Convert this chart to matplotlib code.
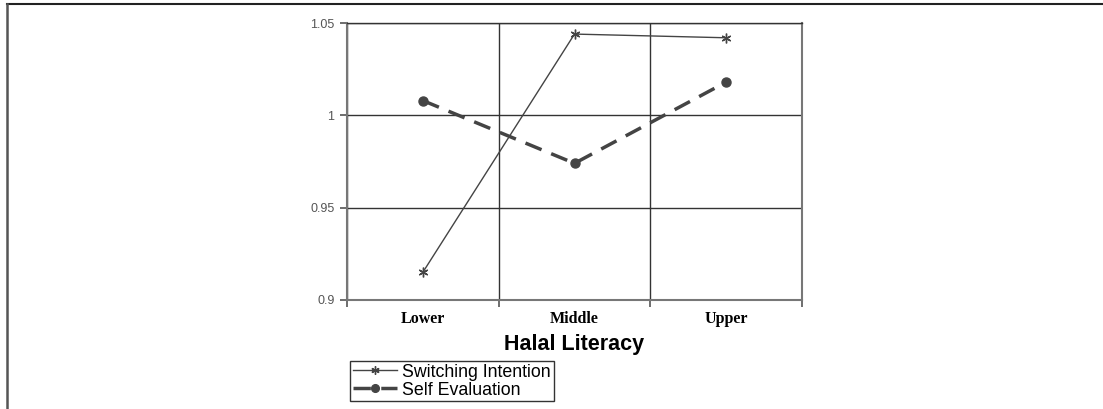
import numpy as np
import matplotlib.pyplot as plt
from matplotlib.lines import Line2D

categories = ['Lower', 'Middle', 'Upper']
switching = [0.915, 1.044, 1.042]
self_eval = [1.008, 0.974, 1.018]
yticks = [0.9, 0.95, 1.0, 1.05]
ytick_labels = ['0.9', '0.95', '1', '1.05']

fig = plt.figure(figsize=(11.03, 4.09), dpi=100)
W, H = 1103, 409
ax = fig.add_axes([347 / W, 1 - 300 / H, 455 / W, 277 / H])

x = np.arange(len(categories))
line_col = '#444444'
ax.plot(x, switching, color=line_col, linewidth=1.0, marker=(6, 2, 0),
        markersize=7, markeredgewidth=1.0, label='Switching Intention')
ax.plot(x, self_eval, color=line_col, linewidth=2.5, linestyle=(0, (5, 3)),
        marker='o', markersize=6.5, label='Self Evaluation')

ax.set_xlim(-0.5, len(categories) - 0.5)
ax.set_ylim(0.9, 1.05)

# category boundaries get the ticks / gridlines, labels sit in between
ax.set_xticks(np.arange(len(categories) + 1) - 0.5)
ax.set_xticklabels([])
ax.set_xticks(x, minor=True)
ax.set_xticklabels(categories, minor=True, fontfamily='Liberation Serif',
                   fontweight='bold', fontsize=11.5)
ax.tick_params(axis='x', which='minor', length=0, pad=8)
ax.tick_params(axis='x', which='major', length=5, direction='out', color='#555555', width=1.2)

ax.set_yticks(yticks)
ax.set_yticklabels(ytick_labels, fontfamily='Liberation Sans', fontsize=9, color='#555555')
ax.tick_params(axis='y', length=5, direction='out', color='#555555', width=1.2, pad=4)

ax.grid(True, axis='both', which='major', color='#333333', linewidth=1.0)
ax.set_axisbelow(True)
for s in ax.spines.values():
    s.set_color('#777777')
    s.set_linewidth(1.5)
ax.spines['top'].set_color('#333333')
ax.spines['top'].set_linewidth(1.0)

ax.set_xlabel('Halal Literacy', fontfamily='Liberation Sans', fontweight='bold',
              fontsize=15.5, labelpad=5)

ax.legend(loc='upper left', bbox_to_anchor=(350 / W, 1 - 361 / H),
          bbox_transform=fig.transFigure, fancybox=False, framealpha=1,
          edgecolor='#333333', borderpad=0.15, labelspacing=0.05,
          handlelength=2.5, handletextpad=0.3, borderaxespad=0,
          markerscale=0.85,
          prop={'family': 'Liberation Sans', 'size': 12.8})

# page frame lines
fig.add_artist(Line2D([7 / W, 1.0], [1 - 4 / H, 1 - 4 / H], transform=fig.transFigure,
                      color='#222222', linewidth=1.5))
fig.add_artist(Line2D([7 / W, 7 / W], [0, 1 - 4 / H], transform=fig.transFigure,
                      color='#555555', linewidth=1.8))

fig.savefig('out.png', dpi=100)
